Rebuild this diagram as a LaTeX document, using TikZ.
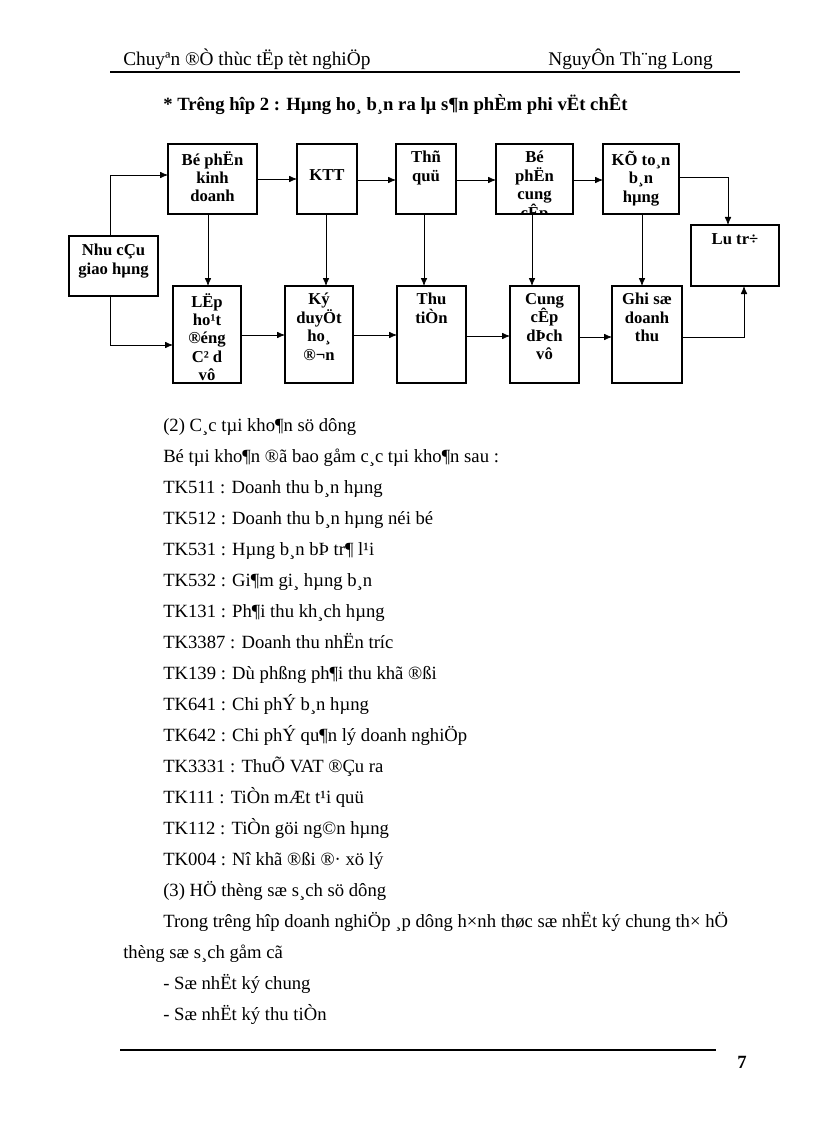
\documentclass[tikz,border=0pt]{standalone}
\usepackage{fontspec}
\setmainfont{Liberation Serif}
\usetikzlibrary{arrows.meta}
\begin{document}
\begin{tikzpicture}[x=0.75pt,y=-0.75pt,
  box/.style={draw,line width=0.8pt},
  lbl/.style={font=\bfseries\fontsize{12.5}{13.8}\selectfont,align=center,anchor=north,inner sep=0pt},
  arr/.style={-{Latex[length=6pt,width=5pt]},line width=0.6pt},
  body/.style={font=\fontsize{14}{16}\selectfont,anchor=base west,inner sep=0pt}]
\useasboundingbox (0,0) rectangle (816,1123);
% header
\node[body,font=\fontsize{14.5}{16}\selectfont] (h1) at (123,66) {Chuyªn ®Ò thùc tËp tèt nghiÖp};
\node[body,font=\fontsize{14.5}{16}\selectfont,anchor=base east] (h2) at (713,66) {NguyÔn Th¨ng Long};
\draw[line width=0.8pt] (110,72) -- (740,72);
\node[body,font=\bfseries\fontsize{14}{16}\selectfont] (ttl) at (163,111) {* Trêng  hîp 2 : Hµng ho¸ b¸n ra lµ s¶n phÈm phi vËt chÊt};
% boxes
\draw[box] (69,236) rectangle (158,296); \node[lbl] (nc) at (113.5,244) {Nhu cÇu\\giao hµng};
\draw[box] (168,144) rectangle (257,214); \node[lbl] (bp) at (212.5,151) {Bé phËn\\kinh\\doanh};
\draw[box] (297,144) rectangle (357,214); \node[lbl] (ktt) at (327,169) {KTT};
\draw[box] (396,144) rectangle (456,214); \node[lbl] (tq) at (426,151) {Thñ\\quü};
\draw[box] (496,144) rectangle (573,214);
\begin{scope}\clip (496,144) rectangle (573,214);
\node[lbl] (bpc) at (534.5,151) {Bé\\phËn\\cung\\cÊp};\end{scope}
\draw[box] (603,144) rectangle (679,214); \node[lbl] (kt) at (641,151) {KÕ to¸n\\b¸n\\hµng};
\draw[box] (691,225) rectangle (779,286); \node[lbl] (lt) at (735,233) {Lu  tr÷};
\draw[box] (173,286) rectangle (241,383); \node[lbl] (lap) at (207,293) {LËp\\ho¹t\\®éng\\C² d\\vô};
\draw[box] (285,286) rectangle (353,383); \node[lbl] (kd) at (319,293) {Ký\\duyÖt\\ho¸\\®¬n};
\draw[box] (397,286) rectangle (466,383); \node[lbl] (tt) at (431.5,293) {Thu\\tiÒn};
\draw[box] (510,286) rectangle (579,383); \node[lbl] (cc) at (544.5,293) {Cung\\cÊp\\dÞch\\vô};
\draw[box] (612,286) rectangle (682,383); \node[lbl] (gs) at (647,293) {Ghi sæ\\doanh\\thu};
% arrows
\draw[arr] (110,236) -- (110,175) -- (168,175);
\draw[arr] (110,296) -- (110,345) -- (173,345);
\draw[arr] (257,179) -- (297,179);
\draw[arr] (357,180) -- (396,180);
\draw[arr] (456,180) -- (496,180);
\draw[arr] (573,180) -- (603,180);
\draw[arr] (679,177) -- (728,177) -- (728,225);
\draw[arr] (208,214) -- (208,286);
\draw[arr] (326,214) -- (326,286);
\draw[arr] (424,214) -- (424,286);
\draw[arr] (532,214) -- (532,286);
\draw[arr] (642,214) -- (642,286);
\draw[arr] (241,335) -- (285,335);
\draw[arr] (353,335) -- (397,335);
\draw[arr] (466,336) -- (510,336);
\draw[arr] (579,337) -- (612,337);
\draw[arr] (682,337) -- (744,337) -- (744,286);
% body
\foreach \t [count=\i from 0] in {%
 {(2) C¸c tµi kho¶n sö dông},
 {Bé tµi kho¶n ®ã bao gåm c¸c tµi kho¶n sau :},
 {TK511 : Doanh thu b¸n hµng},
 {TK512 : Doanh thu b¸n hµng néi bé},
 {TK531 : Hµng b¸n bÞ tr¶ l¹i},
 {TK532 : Gi¶m gi¸ hµng b¸n},
 {TK131 : Ph¶i thu kh¸ch hµng},
 {TK3387 : Doanh thu nhËn tríc},
 {TK139 : Dù phßng ph¶i thu khã ®ßi},
 {TK641 : Chi phÝ b¸n hµng},
 {TK642 : Chi phÝ qu¶n lý doanh nghiÖp},
 {TK3331 : ThuÕ VAT ®Çu ra},
 {TK111 : TiÒn mÆt t¹i quü},
 {TK112 : TiÒn göi ng©n hµng},
 {TK004 : Nî khã ®ßi ®· xö lý},
 {(3) HÖ thèng sæ s¸ch sö dông},
 {Trong trêng  hîp doanh nghiÖp ¸p dông h×nh thøc sæ nhËt ký chung th× hÖ}}
 {\node[body] at (163,{431+31*\i}) {\t};}
\node[body] (l2) at (123,958) {thèng sæ s¸ch gåm cã};
\node[body] (l3) at (163,989) {- Sæ nhËt ký chung};
\node[body] (l4) at (163,1020) {- Sæ nhËt ký thu tiÒn};
\draw[line width=0.8pt] (120,1050) -- (716,1050);
\node[body,font=\bfseries\fontsize{14}{16}\selectfont] (pg) at (737,1068) {7};
\end{tikzpicture}
\end{document}
